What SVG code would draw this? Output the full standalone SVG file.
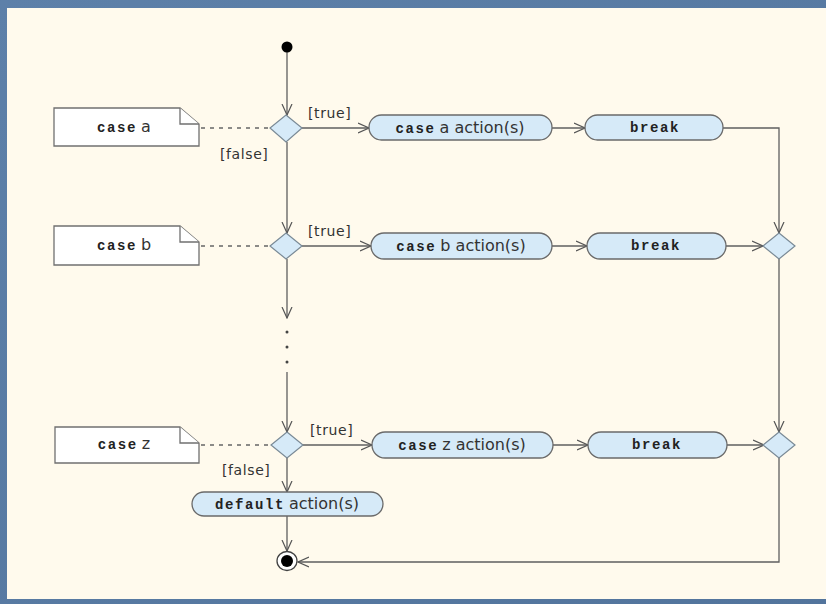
<svg xmlns="http://www.w3.org/2000/svg" width="826" height="604" viewBox="0 0 826 604">
<defs>
<marker id="arr" markerUnits="userSpaceOnUse" markerWidth="12" markerHeight="12" refX="11" refY="6" orient="auto" viewBox="0 0 12 12">
<path d="M0,1 L11,6 L0,11" fill="none" stroke="#555" stroke-width="1.2"/>
</marker>
<linearGradient id="bg" x1="0" y1="0" x2="1" y2="1">
<stop offset="0" stop-color="#5d80a9"/>
<stop offset="1" stop-color="#52749c"/>
</linearGradient>
</defs>
<style>
.line{fill:none;stroke:#5f5f5f;stroke-width:1.3}
.dash{fill:none;stroke:#666;stroke-width:1.3;stroke-dasharray:4 5}
.act{fill:#d6eaf8;stroke:#6a6a6a;stroke-width:1.3}
.dia{fill:#d6eaf8;stroke:#7a8a96;stroke-width:1.2}
.note{fill:#ffffff;stroke:#707070;stroke-width:1.3}
.mono{font-family:"Liberation Mono",monospace;font-weight:bold;font-size:14px;letter-spacing:1.6px;fill:#222}
.sans{font-family:"DejaVu Sans","Liberation Sans",sans-serif;font-size:16px;fill:#333}
.lbl{font-family:"DejaVu Sans","Liberation Sans",sans-serif;font-size:14px;fill:#333;letter-spacing:0.6px}
</style>
<rect x="0" y="0" width="826" height="604" fill="url(#bg)"/>
<rect x="7" y="8" width="819" height="591" fill="#fffaed"/>

<g id="connectors">
<line class="line" x1="287" y1="50" x2="287" y2="115" marker-end="url(#arr)"/>
<line class="line" x1="287" y1="142" x2="287" y2="233" marker-end="url(#arr)"/>
<line class="line" x1="287" y1="259" x2="287" y2="318" marker-end="url(#arr)"/>
<circle cx="287" cy="332" r="1.5" fill="#444"/>
<circle cx="287" cy="347" r="1.5" fill="#444"/>
<circle cx="287" cy="362" r="1.5" fill="#444"/>
<line class="line" x1="287" y1="372" x2="287" y2="432" marker-end="url(#arr)"/>
<line class="line" x1="287" y1="458" x2="287" y2="492" marker-end="url(#arr)"/>
<line class="line" x1="287" y1="516" x2="287" y2="551" marker-end="url(#arr)"/>

<line class="line" x1="302" y1="128" x2="369" y2="128" marker-end="url(#arr)"/>
<line class="line" x1="552" y1="128" x2="585" y2="128" marker-end="url(#arr)"/>
<polyline class="line" points="723,128 779,128 779,233" marker-end="url(#arr)"/>

<line class="line" x1="302" y1="246" x2="371" y2="246" marker-end="url(#arr)"/>
<line class="line" x1="552" y1="246" x2="587" y2="246" marker-end="url(#arr)"/>
<line class="line" x1="726" y1="246" x2="763" y2="246" marker-end="url(#arr)"/>
<line class="line" x1="779" y1="259" x2="779" y2="432" marker-end="url(#arr)"/>

<line class="line" x1="303" y1="445" x2="372" y2="445" marker-end="url(#arr)"/>
<line class="line" x1="553" y1="445" x2="588" y2="445" marker-end="url(#arr)"/>
<line class="line" x1="727" y1="445" x2="764" y2="445" marker-end="url(#arr)"/>
<polyline class="line" points="779,458 779,562 298,562" marker-end="url(#arr)"/>

<line class="dash" x1="201" y1="128" x2="270" y2="128"/>
<line class="dash" x1="201" y1="246" x2="270" y2="246"/>
<line class="dash" x1="201" y1="445" x2="271" y2="445"/>

<text class="lbl" x="308" y="118">[true]</text>
<text class="lbl" x="220" y="159">[false]</text>
<text class="lbl" x="308" y="236">[true]</text>
<text class="lbl" x="310" y="435">[true]</text>
<text class="lbl" x="222" y="475">[false]</text>
</g>

<g id="start"><circle cx="287" cy="47" r="5.5" fill="#000"/></g>

<g id="note-a">
<path class="note" d="M54,108 H180 L199,124 V146 H54 Z"/>
<path class="note" d="M180,108 V124 H199" fill="none"/>
<text x="124" y="132" text-anchor="middle"><tspan class="mono">case</tspan><tspan class="sans" dx="4">a</tspan></text>
</g>
<g id="decision-a"><polygon class="dia" points="286,115 302,128 286,142 270,128"/></g>
<g id="action-a"><rect class="act" x="369" y="115" width="183" height="25" rx="12.5"/>
<text x="460" y="133" text-anchor="middle"><tspan class="mono">case</tspan><tspan class="sans" dx="4">a action(s)</tspan></text></g>
<g id="break-a"><rect class="act" x="585" y="115" width="138" height="25" rx="12.5"/>
<text class="mono" x="655" y="132" text-anchor="middle">break</text></g>

<g id="note-b">
<path class="note" d="M54,226 H180 L199,242 V265 H54 Z"/>
<path class="note" d="M180,226 V242 H199" fill="none"/>
<text x="124" y="250" text-anchor="middle"><tspan class="mono">case</tspan><tspan class="sans" dx="4">b</tspan></text>
</g>
<g id="decision-b"><polygon class="dia" points="286,233 302,246 286,259 270,246"/></g>
<g id="action-b"><rect class="act" x="371" y="233" width="181" height="26" rx="13"/>
<text x="461" y="251" text-anchor="middle"><tspan class="mono">case</tspan><tspan class="sans" dx="4">b action(s)</tspan></text></g>
<g id="break-b"><rect class="act" x="587" y="233" width="139" height="26" rx="13"/>
<text class="mono" x="656" y="250" text-anchor="middle">break</text></g>
<g id="merge-b"><polygon class="dia" points="779,233 795,246 779,259 763,246"/></g>

<g id="note-z">
<path class="note" d="M55,427 H180 L199,443 V463 H55 Z"/>
<path class="note" d="M180,427 V443 H199" fill="none"/>
<text x="124" y="449" text-anchor="middle"><tspan class="mono">case</tspan><tspan class="sans" dx="4">z</tspan></text>
</g>
<g id="decision-z"><polygon class="dia" points="287,432 303,445 287,458 271,445"/></g>
<g id="action-z"><rect class="act" x="372" y="432" width="181" height="26" rx="13"/>
<text x="462" y="450" text-anchor="middle"><tspan class="mono">case</tspan><tspan class="sans" dx="4">z action(s)</tspan></text></g>
<g id="break-z"><rect class="act" x="588" y="432" width="139" height="26" rx="13"/>
<text class="mono" x="657" y="449" text-anchor="middle">break</text></g>
<g id="merge-z"><polygon class="dia" points="779,432 795,445 779,458 763,445"/></g>

<g id="default"><rect class="act" x="192" y="492" width="191" height="24" rx="12"/>
<text x="287" y="509" text-anchor="middle"><tspan class="mono">default</tspan><tspan class="sans" dx="4">action(s)</tspan></text></g>

<g id="final">
<ellipse cx="287" cy="561" rx="10" ry="9.5" fill="#fff" stroke="#444" stroke-width="1.3"/>
<circle cx="287" cy="561" r="6" fill="#000"/>
</g>
</svg>
